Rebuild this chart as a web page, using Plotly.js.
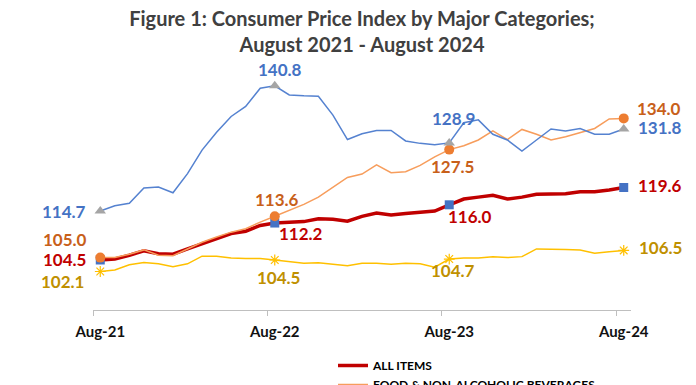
<!DOCTYPE html>
<html><head><meta charset="utf-8">
<script src="https://cdn.plot.ly/plotly-3.0.1.min.js"></script>
<style>html,body{margin:0;padding:0;overflow:hidden;background:#fff}</style>
</head><body><div id="chart" style="width:696px;height:430px"></div>
<script>
const months = ["Aug-21","Sep-21","Oct-21","Nov-21","Dec-21","Jan-22","Feb-22","Mar-22","Apr-22","May-22","Jun-22","Jul-22",
  "Aug-22","Sep-22","Oct-22","Nov-22","Dec-22","Jan-23","Feb-23","Mar-23","Apr-23","May-23","Jun-23","Jul-23",
  "Aug-23","Sep-23","Oct-23","Nov-23","Dec-23","Jan-24","Feb-24","Mar-24","Apr-24","May-24","Jun-24","Jul-24","Aug-24"];
const allItems = [104.5,104.7,105.5,106.4,105.8,105.7,106.8,107.9,109.0,110.0,110.5,111.7,112.2,112.3,112.5,113.1,113.0,112.6,113.6,114.3,113.9,114.2,114.4,114.7,116.0,117.2,117.6,118.0,117.2,117.6,118.2,118.3,118.3,118.7,118.7,119.1,119.6];
const foodBev = [105.0,105.0,105.7,106.6,105.5,105.4,106.8,108.2,109.3,110.3,111.0,112.4,113.6,114.9,116.1,117.6,119.6,121.7,122.4,124.3,122.7,122.9,124.2,126.0,127.5,128.3,129.5,131.4,129.6,131.7,130.7,129.5,130.2,131.0,131.9,133.9,134.0];
const blueSeries = [114.7,115.8,116.3,119.5,119.7,118.5,122.5,127.4,131.1,134.4,136.5,140.3,140.8,138.9,138.7,138.6,134.7,129.6,130.8,131.5,131.5,129.3,128.8,128.5,128.9,133.1,133.7,130.7,129.5,127.2,129.5,131.8,131.4,131.9,130.7,130.7,131.8];
const yellowSeries = [102.1,102.4,103.5,104.0,103.7,103.1,103.7,105.3,105.3,104.9,104.8,104.8,104.5,104.2,103.8,103.9,103.6,103.3,103.8,103.8,103.6,103.8,103.7,103.0,104.7,104.9,104.9,105.2,105.0,105.2,106.8,106.8,106.7,106.6,105.9,106.2,106.5];
const seriesNames = ["ALL ITEMS","FOOD & NON-ALCOHOLIC BEVERAGES","TRANSPORT","HOUSING, WATER, ELECTRICITY, GAS & OTHER FUELS"];
const tickMonths = ["Aug-21","Aug-22","Aug-23","Aug-24"];

const xIdx = months.map((m, i) => i);
const labelIdx = tickMonths.map(m => months.indexOf(m));

const styles = [
  {data: allItems, line: {color:'#C00000', width:3.5}, marker:{symbol:'square', color:'#4472C4', size:9},
   text:'#C00000', off:[[-36,0],[26,-10],[21,-12],[36,2]]},
  {data: foodBev, line: {color:'#F79D5C', width:1.5}, marker:{symbol:'circle', color:'#ED7D31', size:10},
   text:'#C8601A', off:[[-35,18],[2,17],[3,-17],[35,10]]},
  {data: blueSeries, line: {color:'#5582D0', width:1.5}, marker:{symbol:'triangle-up', color:'#A5A5A5', size:10},
   text:'#4472C4', off:[[-36,0],[5,16],[4,24],[36,1]]},
  {data: yellowSeries, line: {color:'#FFC000', width:1.5}, marker:{symbol:'asterisk-open', color:'#FFC000', size:9, line:{color:'#FFC000', width:1.2}},
   text:'#BF9000', off:[[-38,-10],[4,-18],[4,-11],[37,3]]}
];

const traces = [];
const annotations = [];
styles.forEach((s, k) => {
  traces.push({x: xIdx, y: s.data, type:'scatter', mode:'lines', name: seriesNames[k], line: s.line, hoverinfo:'x+y'});
});
styles.forEach((s, k) => {
  traces.push({x: labelIdx, y: labelIdx.map(i => s.data[i]), type:'scatter', mode:'markers', showlegend:false,
    marker: s.marker, cliponaxis:false});
  labelIdx.forEach((i, j) => {
    annotations.push({x: i, y: s.data[i], xref:'x', yref:'y', text: '<b>' + s.data[i].toFixed(1) + '</b>',
      showarrow:false, xshift: s.off[j][0], yshift: s.off[j][1],
      font:{family:'Lato, sans-serif', size:17, color: s.text}});
  });
});

const layout = {
  width:696, height:430,
  paper_bgcolor:'#ffffff', plot_bgcolor:'#ffffff',
  margin:{l:93, r:65, t:60, b:120, autoexpand:false},
  title:{text:'<b>Figure 1: Consumer Price Index by Major Categories;<br>August 2021 - August 2024</b>',
    x:0.5, xanchor:'center', xref:'paper', y:1-26/430, yanchor:'top', yref:'container',
    font:{family:'Lato, sans-serif', size:20, color:'#404040'}},
  xaxis:{range:[-0.5, 36.5], showgrid:false, zeroline:false, showline:true, linecolor:'#BFBFBF', linewidth:1,
    tickmode:'array', tickvals: labelIdx, ticktext: tickMonths, ticks:'', ticklabelstandoff:8,
    tickfont:{family:'Lato, sans-serif', size:15, color:'#111111', weight:'bold'},
    minor:{tickmode:'array', tickvals: labelIdx.map(i => i - 0.5), ticks:'outside', ticklen:5, tickcolor:'#BFBFBF', tickwidth:1, showgrid:false},
    fixedrange:true},
  yaxis:{range:[94.08, 146.17], visible:false, fixedrange:true},
  showlegend:true,
  legend:{orientation:'v', xref:'container', yref:'container', x:333/696, xanchor:'left', y:1-351/430, yanchor:'top',
    font:{family:'Lato, sans-serif', size:12, color:'#000000', weight:'bold'}, tracegroupgap:0, bgcolor:'rgba(0,0,0,0)'},
  annotations: annotations
};
Plotly.newPlot('chart', traces, layout, {displayModeBar:false, staticPlot:true});
</script></body></html>
